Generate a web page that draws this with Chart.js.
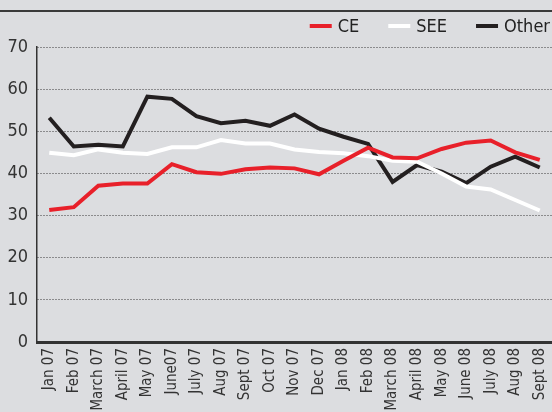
<!DOCTYPE html>
<html>
<head>
<meta charset="utf-8">
<script src="https://cdn.jsdelivr.net/npm/chart.js@4"></script>
<style>
    html, body { margin: 0; padding: 0; background: #dcdde0; }
    #wrap { width: 552px; height: 412px; position: relative; }
</style>
</head>
<body>
<div id="wrap"><canvas id="regionChart"></canvas></div>
<script>
// Data
const months = ['Jan 07', 'Feb 07', 'March 07', 'April 07', 'May 07', 'June07', 'July 07', 'Aug 07',
    'Sept 07', 'Oct 07', 'Nov 07', 'Dec 07', 'Jan 08', 'Feb 08', 'March 08', 'April 08', 'May 08',
    'June 08', 'July 08', 'Aug 08', 'Sept 08'];
const ceValues = [31.3, 32.0, 37.1, 37.6, 37.6, 42.2, 40.3, 39.9, 41.0, 41.4, 41.2, 39.8, 43.0,
    46.1, 43.8, 43.6, 45.8, 47.3, 47.8, 45.0, 43.2];
const seeValues = [44.9, 44.3, 45.7, 44.9, 44.6, 46.2, 46.2, 47.9, 47.1, 47.1, 45.7, 45.1, 44.8,
    44.1, 43.0, 42.8, 40.0, 36.9, 36.2, 33.7, 31.2];
const otherValues = [53.2, 46.4, 46.8, 46.4, 58.2, 57.7, 53.6, 51.9, 52.5, 51.3, 54.0, 50.6, 48.7,
    47.0, 38.0, 42.0, 40.4, 37.7, 41.6, 44.0, 41.4];
const yTicks = [0, 10, 20, 30, 40, 50, 60, 70];

const FONT = "'Liberation Sans Narrow', 'Arial Narrow', 'DejaVu Sans Condensed', sans-serif";

// Rule under the (cropped) title
const titleRule = {
    id: 'titleRule',
    beforeDraw(chart) {
        const ctx = chart.ctx;
        ctx.save();
        ctx.fillStyle = '#3a3a3a';
        ctx.fillRect(0, 10, chart.width, 2);
        ctx.restore();
    }
};

// Legend laid out right to left, line swatch then label
const lineLegend = {
    id: 'lineLegend',
    afterDraw(chart) {
        const ctx = chart.ctx;
        const sets = chart.data.datasets;
        ctx.save();
        ctx.font = '18px ' + FONT;
        ctx.textBaseline = 'middle';
        ctx.textAlign = 'left';
        let x = 550;
        const y = 26;
        for (let i = sets.length - 1; i >= 0; i--) {
            const w = ctx.measureText(sets[i].label).width;
            const textX = x - w;
            ctx.fillStyle = '#222';
            ctx.fillText(sets[i].label, textX, y + 1);
            ctx.fillStyle = sets[i].borderColor;
            ctx.fillRect(textX - 6 - 22, y - 2, 22, 4);
            x = textX - 6 - 22 - 29;
        }
        ctx.restore();
    }
};

function series(label, data, color) {
    return {
        label: label,
        data: data,
        borderColor: color,
        backgroundColor: color,
        borderWidth: 4,
        pointRadius: 0,
        tension: 0,
        fill: false
    };
}

new Chart(document.getElementById('regionChart'), {
    type: 'line',
    data: {
        labels: months,
        datasets: [
            series('CE', ceValues, '#e8202a'),
            series('SEE', seeValues, '#ffffff'),
            series('Other', otherValues, '#231f20')
        ]
    },
    options: {
        responsive: true,
        maintainAspectRatio: false,
        animation: false,
        layout: { padding: { top: 47, right: 0, left: 0, bottom: 0 } },
        plugins: {
            tooltip: { enabled: false },
            legend: { display: false }
        },
        scales: {
            x: {
                offset: true,
                grid: { display: false, drawTicks: false },
                border: { display: true, color: '#333', width: 3 },
                ticks: {
                    autoSkip: false,
                    maxRotation: 90,
                    minRotation: 90,
                    padding: 6,
                    color: '#333',
                    font: { family: FONT, size: 15 }
                },
                afterFit: function(scale) {
                    scale.height = 70;
                    scale.paddingLeft = 0;
                    scale.paddingRight = 0;
                }
            },
            y: {
                min: 0,
                max: 70,
                afterBuildTicks: function(scale) {
                    scale.ticks = yTicks.map(v => ({ value: v }));
                },
                grid: {
                    color: 'rgba(40, 40, 40, 0.9)',
                    lineWidth: 1,
                    drawTicks: false
                },
                border: { display: true, color: '#333', width: 1.5, dash: [1, 2] },
                ticks: {
                    padding: 9,
                    color: '#333',
                    font: { family: FONT, size: 18 }
                },
                afterFit: function(scale) { scale.width = 37; }
            }
        }
    },
    plugins: [titleRule, lineLegend]
});
</script>
</body>
</html>
